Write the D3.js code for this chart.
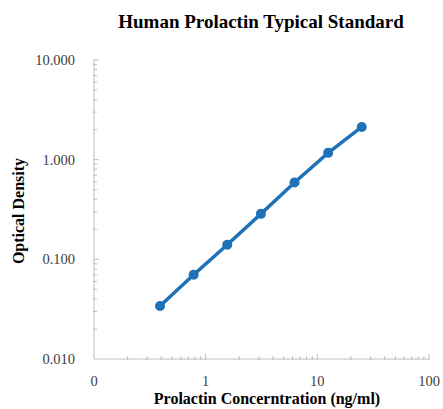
<!DOCTYPE html>
<html><head><meta charset="utf-8">
<script src="https://cdn.jsdelivr.net/npm/d3@7"></script>
<style>body{margin:0;background:#fff}svg{display:block}text{font-family:"Liberation Serif","Times New Roman",serif}</style>
</head><body><svg id="c" width="443" height="409"></svg>
<script>
const concentrations = [0.39, 0.78, 1.56, 3.125, 6.25, 12.5, 25];
const odValues = [0.034, 0.070, 0.140, 0.286, 0.59, 1.17, 2.13];
const xTickValues = [0.1, 1, 10, 100];
const xTickLabels = ["0", "1", "10", "100"];
const yTickValues = [0.01, 0.1, 1, 10];
const yTickLabels = ["0.010", "0.100", "1.000", "10.000"];
const title = "Human Prolactin Typical Standard";
const xTitle = "Prolactin Concerntration (ng/ml)";
const yTitle = "Optical Density";

const svg = d3.select("#c");
const x = d3.scaleLog().domain([0.1, 100]).range([94, 429]);
const y = d3.scaleLog().domain([0.01, 10]).range([359, 60]);
const axisColor = "#bfbfbf";

function minorTicks(dom) {
  const out = [];
  for (let e = Math.log10(dom[0]); e < Math.log10(dom[1]); e++) {
    for (let k = 2; k <= 9; k++) out.push(k * Math.pow(10, e));
  }
  return out;
}

svg.append("line").attr("x1", x(0.1)).attr("x2", x(100)).attr("y1", y(0.01)).attr("y2", y(0.01)).attr("stroke", axisColor);
svg.append("line").attr("x1", x(0.1)).attr("x2", x(0.1)).attr("y1", y(0.01)).attr("y2", y(10)).attr("stroke", axisColor);

svg.selectAll(".xmin").data(minorTicks(x.domain())).join("line")
  .attr("x1", d => x(d)).attr("x2", d => x(d)).attr("y1", y(0.01) + 1).attr("y2", y(0.01) - 3).attr("stroke", axisColor);
svg.selectAll(".xmaj").data(xTickValues.slice(1)).join("line")
  .attr("x1", d => x(d)).attr("x2", d => x(d)).attr("y1", y(0.01) + 1).attr("y2", y(0.01) - 5).attr("stroke", axisColor);
svg.selectAll(".ymin").data(minorTicks(y.domain())).join("line")
  .attr("y1", d => y(d)).attr("y2", d => y(d)).attr("x1", x(0.1) - 1).attr("x2", x(0.1) + 3).attr("stroke", axisColor);
svg.selectAll(".ymaj").data(yTickValues.slice(1)).join("line")
  .attr("y1", d => y(d)).attr("y2", d => y(d)).attr("x1", x(0.1) - 1).attr("x2", x(0.1) + 5).attr("stroke", axisColor);

svg.selectAll(".xl").data(xTickValues).join("text")
  .attr("x", d => x(d)).attr("y", 386).attr("text-anchor", "middle")
  .attr("font-size", 14.5).attr("fill", "#404040").text((d, i) => xTickLabels[i]);
svg.selectAll(".yl").data(yTickValues).join("text")
  .attr("x", 75).attr("y", d => y(d) + 5).attr("text-anchor", "end")
  .attr("font-size", 14.5).attr("fill", "#404040").text((d, i) => yTickLabels[i]);

svg.append("text").attr("x", 261).attr("y", 28).attr("text-anchor", "middle")
  .attr("font-size", 19).attr("font-weight", "bold").attr("fill", "#000").text(title);
svg.append("text").attr("x", 267).attr("y", 404).attr("text-anchor", "middle")
  .attr("font-size", 16).attr("font-weight", "bold").attr("fill", "#000").text(xTitle);
svg.append("text").attr("transform", "translate(24,211) rotate(-90)").attr("text-anchor", "middle")
  .attr("font-size", 16).attr("font-weight", "bold").attr("fill", "#000").text(yTitle);

const pts = concentrations.map((c, i) => [c, odValues[i]]);
const blue = "#1f72b8";
svg.append("path").datum(pts)
  .attr("d", d3.line().x(d => x(d[0])).y(d => y(d[1])))
  .attr("fill", "none").attr("stroke", blue).attr("stroke-width", 3.5);
svg.selectAll(".pt").data(pts).join("circle")
  .attr("cx", d => x(d[0])).attr("cy", d => y(d[1])).attr("r", 5).attr("fill", blue);
</script></body></html>
